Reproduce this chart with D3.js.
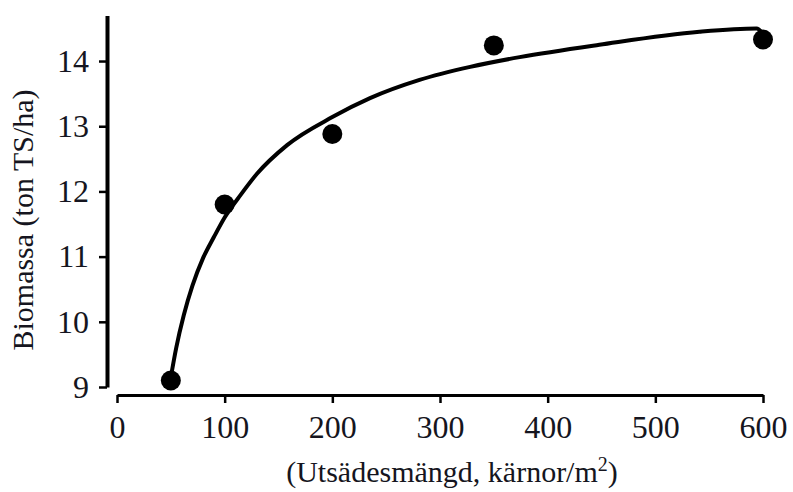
<!DOCTYPE html>
<html>
<head>
<meta charset="utf-8">
<script src="https://cdn.jsdelivr.net/npm/d3@7"></script>
<style>
  body { margin: 0; background: #fff; }
  text { font-family: "Liberation Serif", "Times New Roman", serif; fill: #151520; }
</style>
</head>
<body>
<div class="canvas"></div>
<script>
const dims = {width: 793, height: 492};

// measured points
const seedRate = [50, 100, 200, 350, 600];
const biomass = [9.1, 11.8, 12.88, 14.24, 14.33];

// fitted curve
const curveX = [50, 55, 62, 70, 80, 90, 100, 115, 130, 158, 200, 235, 281, 328, 374, 448, 541, 594, 600];
const curveY = [9.15, 9.6, 10.1, 10.55, 10.98, 11.3, 11.6, 11.95, 12.27, 12.71, 13.14, 13.43, 13.71, 13.91, 14.06, 14.25, 14.45, 14.5, 14.42];

const xTicks = [0, 100, 200, 300, 400, 500, 600];
const yTicks = [9, 10, 11, 12, 13, 14];

const svg = d3.select(".canvas").append("svg")
    .attr("width", dims.width)
    .attr("height", dims.height);

const x = d3.scaleLinear().domain([0, 600]).range([117, 763]);
const y = d3.scaleLinear().domain([9, 14.7]).range([387, 15.4]);

// y axis
const yAxis = svg.append("g")
    .attr("transform", "translate(107,0)")
    .call(d3.axisLeft(y).tickValues(yTicks).tickFormat(d3.format("d"))
        .tickSize(8).tickSizeOuter(0).tickPadding(10));
yAxis.select(".domain").attr("stroke", "#000").attr("stroke-width", 4);
yAxis.selectAll(".tick line").attr("stroke", "#000").attr("stroke-width", 2.5);
yAxis.selectAll("text").style("font-size", "32px").attr("fill", "#151520");

// x axis
const xAxis = svg.append("g")
    .attr("transform", "translate(0,395)")
    .call(d3.axisBottom(x).tickValues(xTicks).tickSize(8).tickSizeOuter(0).tickPadding(12));
xAxis.select(".domain").attr("stroke", "#000").attr("stroke-width", 3);
xAxis.selectAll(".tick line").attr("stroke", "#000").attr("stroke-width", 2.5);
xAxis.selectAll("text").style("font-size", "32px").attr("fill", "#151520");

// curve
const line = d3.line()
    .x(d => x(d[0]))
    .y(d => y(d[1]))
    .curve(d3.curveMonotoneX);

svg.append("path")
    .datum(curveX.map((v, i) => [v, curveY[i]]))
    .attr("fill", "none")
    .attr("stroke", "#000")
    .attr("stroke-width", 4)
    .attr("d", line);

// dots
svg.selectAll(".dot")
    .data(seedRate.map((v, i) => [v, biomass[i]]))
    .enter().append("circle")
    .attr("class", "dot")
    .attr("cx", d => x(d[0]))
    .attr("cy", d => y(d[1]))
    .attr("r", 10)
    .attr("fill", "#000");

// axis titles
svg.append("text")
    .attr("transform", "translate(33,220) rotate(-90)")
    .attr("text-anchor", "middle")
    .style("font-size", "30px")
    .text("Biomassa (ton TS/ha)");

const xt = svg.append("text")
    .attr("x", 452)
    .attr("y", 482)
    .attr("text-anchor", "middle")
    .style("font-size", "30px");
xt.append("tspan").text("(Utsädesmängd, kärnor/m");
xt.append("tspan").attr("dy", -11).style("font-size", "20px").text("2");
xt.append("tspan").attr("dy", 11).text(")");
</script>
</body>
</html>
